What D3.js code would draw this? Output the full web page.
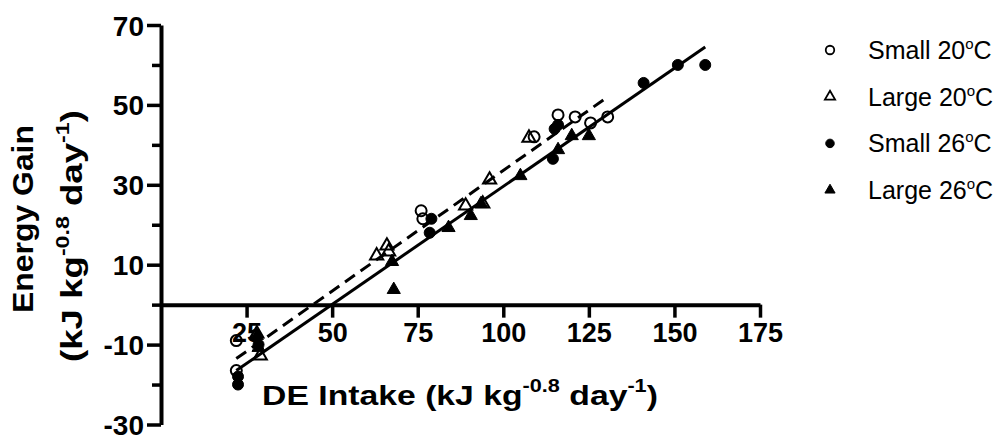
<!DOCTYPE html>
<html><head><meta charset="utf-8">
<script src="https://cdn.jsdelivr.net/npm/d3@7"></script>
<style>
html,body{margin:0;padding:0;background:#fff;}
text{font-family:"Liberation Sans",Arial,Helvetica,sans-serif;fill:#000;}
</style></head>
<body>
<svg id="chart" width="998" height="438"></svg>
<script>
// ---- data (x = DE intake, y = energy gain) ----
const small20 = [[22,-9],[22,-16.5],[76,23.5],[76.5,21.5],[109,42],[116,47.5],[121,47],[125.5,45.5],[130.5,47]];
const large20 = [[28,-7],[29,-12.5],[63,12.5],[66,15],[66.5,13.5],[89,25],[94,25.5],[96,31.5],[107.5,42]];
const small26 = [[22.5,-18],[22.5,-20],[28.5,-10],[78.5,18],[79,21.5],[114.5,36.5],[115,44],[116,45],[141,55.5],[151,60],[159,60]];
const large26 = [[28,-7.5],[28.5,-10.5],[67.5,11],[68,4],[84,19.5],[90.5,22.5],[93.5,25.5],[105,32.5],[116,39],[120,42.5],[125,42.5]];
const fit20 = [[22,-13.5],[130.5,52]];
const fit26 = [[22,-16.5],[159,64.5]];
const xTicks = [25,50,75,100,125,150,175];
const yMajor = [-30,-10,10,30,50,70];
const yMinor = [-20,0,20,40,60];
const legendLabels = ["Small 20","Large 20","Small 26","Large 26"];

const svg = d3.select("#chart");
const x = d3.scaleLinear().domain([0,175]).range([161,760]);
const y = d3.scaleLinear().domain([-30,70]).range([424.5,25]);
const fmt = d => String(d); // plain hyphen minus as in the original

// y axis
const yAx = svg.append("g").attr("transform",`translate(${x(0)},0)`)
  .call(d3.axisLeft(y).tickValues(yMajor).tickSize(14).tickSizeOuter(0).tickPadding(3).tickFormat(fmt));
yAx.select(".domain").attr("stroke","#000").attr("stroke-width",4);
yAx.selectAll(".tick line").attr("stroke","#000").attr("stroke-width",3.5);
yAx.selectAll(".tick text").attr("font-size",28).attr("font-weight","bold").attr("dy","0.36em");
const yMin = svg.append("g").attr("transform",`translate(${x(0)},0)`)
  .call(d3.axisLeft(y).tickValues(yMinor).tickSize(9).tickSizeOuter(0).tickFormat(""));
yMin.select(".domain").remove();
yMin.selectAll(".tick line").attr("stroke","#000").attr("stroke-width",3.5);

// x axis
const xAx = svg.append("g").attr("transform",`translate(0,${y(0)})`)
  .call(d3.axisBottom(x).tickValues(xTicks).tickSize(13).tickSizeOuter(0).tickPadding(5).tickFormat(fmt));
xAx.select(".domain").attr("stroke","#000").attr("stroke-width",4);
xAx.selectAll(".tick line").attr("stroke","#000").attr("stroke-width",3.5);
xAx.selectAll(".tick text").attr("font-size",27).attr("font-weight","bold").attr("dy","0.71em");

// titles
function richText(g, parts, size, supSize, raise){
  const t = g.append("text").attr("font-size",size).attr("font-weight","bold").attr("text-anchor","middle");
  parts.forEach((p,i)=>{
    const ts = t.append("tspan").text(p.t);
    if(p.sup){ ts.attr("font-size",supSize).attr("dy",-raise); }
    else if(i>0 && parts[i-1].sup){ ts.attr("dy",raise); }
  });
  return t;
}
function fit(t, target){
  const w = t.node().getBBox().width;
  t.attr("transform",`scale(${target/w},1)`);
}
const unitParts = [{t:"(kJ kg"},{t:"-0.8",sup:true},{t:" day"},{t:"-1",sup:true},{t:")"}];
const gx = svg.append("g").attr("transform","translate(460,405)");
fit(richText(gx,[{t:"DE Intake "}].concat(unitParts),28,18,13),396);
const gy1 = svg.append("g").attr("transform","translate(33,219) rotate(-90)");
fit(richText(gy1,[{t:"Energy Gain"}],30,18,13),188);
const gy2 = svg.append("g").attr("transform","translate(82,236) rotate(-90)");
fit(richText(gy2,unitParts,30,19,13),252);

// regression lines
const line = d3.line().x(d=>x(d[0])).y(d=>y(d[1]));
svg.append("path").datum(fit26).attr("d",line).attr("fill","none").attr("stroke","#000").attr("stroke-width",3);
svg.append("path").datum(fit20).attr("d",line).attr("fill","none").attr("stroke","#000").attr("stroke-width",3).attr("stroke-dasharray","12,7");

// points
const series = [
  {data:small20, type:d3.symbolCircle, filled:false},
  {data:large20, type:d3.symbolTriangle, filled:false},
  {data:small26, type:d3.symbolCircle, filled:true},
  {data:large26, type:d3.symbolTriangle, filled:true}
];
function sym(s, scale){
  return d3.symbol().type(s.type).size((s.type===d3.symbolCircle?95:75)*scale)();
}
series.forEach(s=>{
  svg.append("g").selectAll("path").data(s.data).join("path")
    .attr("d",sym(s,1))
    .attr("transform",d=>`translate(${x(d[0])},${y(d[1]) + (s.type===d3.symbolTriangle?1:0)})`)
    .attr("fill",s.filled?"#000":"none")
    .attr("stroke","#000").attr("stroke-width",s.filled?1:2);
});

// legend
series.forEach((s,i)=>{
  const ly = 50 + i*46.7;
  svg.append("path").attr("d",sym(s,0.6)).attr("transform",`translate(830,${ly})`)
    .attr("fill",s.filled?"#000":"none").attr("stroke","#000").attr("stroke-width",s.filled?1:1.8);
  const t = svg.append("text").attr("x",868).attr("y",ly+9).attr("font-size",25);
  t.append("tspan").text(legendLabels[i]);
  t.append("tspan").text("o").attr("font-size",15).attr("dy",-10);
  t.append("tspan").text("C").attr("dy",10);
});
</script>
</body></html>
